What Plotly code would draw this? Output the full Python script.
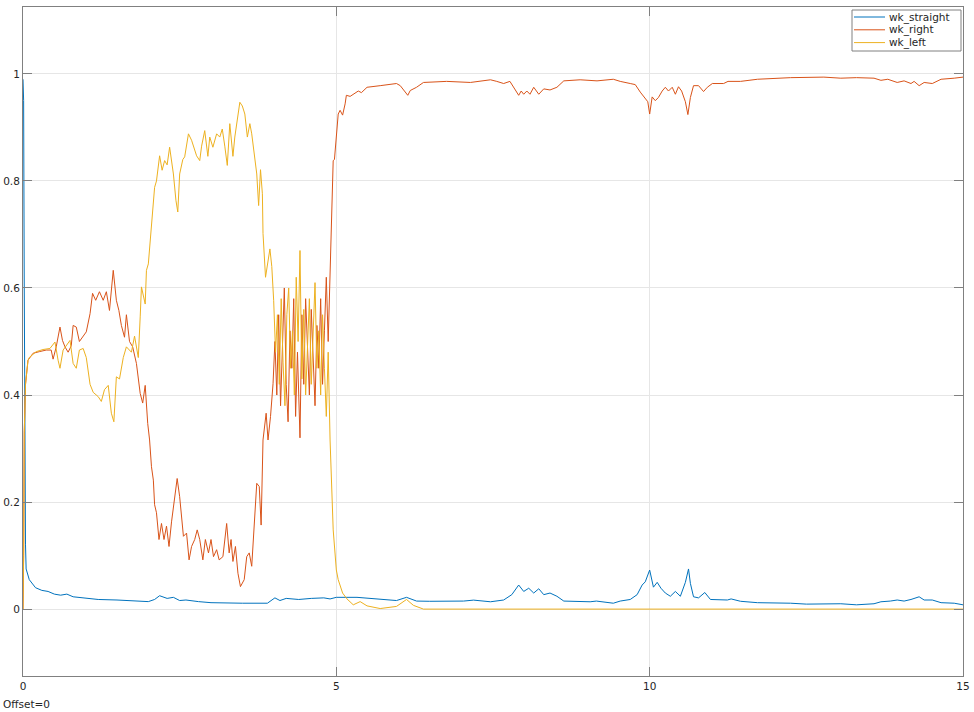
import plotly.graph_objects as go

# ---------------- data ----------------
t_straight = [0.0, 0.01, 0.02, 0.03, 0.04, 0.05, 0.1, 0.2, 0.3, 0.4, 0.5, 0.6, 0.7, 0.8, 1.0,
              1.2, 1.5, 1.8, 2.0, 2.1, 2.18, 2.3, 2.4, 2.5, 2.6, 2.8, 3.0, 3.5, 3.9, 4.02, 4.1,
              4.2, 4.4, 4.6, 4.8, 4.9, 5.0, 5.33, 5.64, 5.96, 6.12, 6.28, 6.49, 7.03, 7.19,
              7.46, 7.67, 7.8, 7.91, 7.99, 8.07, 8.15, 8.23, 8.31, 8.41, 8.52, 8.63, 9.05,
              9.15, 9.42, 9.53, 9.69, 9.8, 9.88, 9.93, 10.0, 10.06, 10.12, 10.18, 10.25,
              10.33, 10.41, 10.49, 10.57, 10.62, 10.65, 10.7, 10.78, 10.88, 10.97, 11.24,
              11.3, 11.45, 11.72, 12.25, 12.5, 13.05, 13.3, 13.58, 13.69, 13.84, 13.95,
              14.06, 14.17, 14.3, 14.38, 14.51, 14.65, 14.86, 15.0]
wk_straight = [0.99, 0.95, 0.6, 0.3, 0.12, 0.075, 0.055, 0.04, 0.035, 0.033, 0.028, 0.026,
               0.028, 0.023, 0.02, 0.018, 0.017, 0.015, 0.014, 0.018, 0.025, 0.02, 0.022,
               0.016, 0.017, 0.014, 0.012, 0.011, 0.011, 0.021, 0.016, 0.02, 0.018, 0.02,
               0.021, 0.019, 0.022, 0.022, 0.019, 0.016, 0.022, 0.015, 0.0146, 0.015,
               0.0168, 0.0137, 0.017, 0.027, 0.045, 0.033, 0.039, 0.03, 0.038, 0.027,
               0.03, 0.024, 0.015, 0.0137, 0.015, 0.011, 0.015, 0.018, 0.027, 0.045,
               0.051, 0.073, 0.041, 0.05, 0.039, 0.03, 0.024, 0.033, 0.024, 0.05, 0.075,
               0.048, 0.023, 0.021, 0.031, 0.018, 0.017, 0.019, 0.0146, 0.012, 0.011,
               0.0093, 0.01, 0.008, 0.01, 0.0137, 0.015, 0.017, 0.015, 0.018, 0.023,
               0.017, 0.017, 0.012, 0.011, 0.008]

t_right = [0.0, 0.01, 0.02, 0.04, 0.08, 0.16, 0.26, 0.37, 0.45, 0.48, 0.53, 0.59, 0.63,
           0.67, 0.72, 0.77, 0.8, 0.85, 0.9, 0.96, 1.01, 1.07, 1.11, 1.16, 1.22, 1.28,
           1.33, 1.38, 1.44, 1.49, 1.53, 1.57, 1.62, 1.65, 1.7, 1.75, 1.81, 1.87, 1.91,
           1.95, 1.99, 2.02, 2.05, 2.08, 2.1, 2.13, 2.17, 2.21, 2.25, 2.29, 2.33, 2.37,
           2.41, 2.46, 2.5, 2.53, 2.56, 2.61, 2.65, 2.69, 2.74, 2.78, 2.82, 2.87, 2.91,
           2.96, 3.0, 3.04, 3.09, 3.13, 3.19, 3.25, 3.29, 3.32, 3.35, 3.39, 3.43, 3.47,
           3.53, 3.57, 3.61, 3.65, 3.69, 3.73, 3.77, 3.8, 3.83, 3.88, 3.91, 3.95, 3.99,
           4.02, 4.05, 4.08, 4.11, 4.14, 4.17, 4.2, 4.23, 4.26, 4.29, 4.32, 4.35, 4.38,
           4.42, 4.45, 4.48, 4.51, 4.54, 4.57, 4.6, 4.63, 4.66, 4.69, 4.72, 4.75, 4.78,
           4.81, 4.84, 4.87, 4.9, 4.95, 4.97, 5.0, 5.03, 5.06, 5.1, 5.14, 5.16, 5.22,
           5.3, 5.35, 5.4, 5.49, 5.7, 5.96, 6.02, 6.1, 6.14, 6.18, 6.28, 6.39, 6.76,
           7.14, 7.46, 7.56, 7.67, 7.77, 7.85, 7.91, 7.95, 7.99, 8.04, 8.09, 8.15, 8.23,
           8.31, 8.41, 8.52, 8.63, 8.89, 9.16, 9.42, 9.53, 9.69, 9.77, 9.85, 9.93, 9.97,
           10.0, 10.04, 10.09, 10.14, 10.2, 10.25, 10.3, 10.36, 10.41, 10.46, 10.51,
           10.57, 10.61, 10.65, 10.7, 10.78, 10.86, 10.92, 11.0, 11.18, 11.25, 11.45,
           11.72, 12.25, 12.78, 13.05, 13.3, 13.58, 13.69, 13.8, 13.95, 14.06, 14.17,
           14.22, 14.3, 14.38, 14.51, 14.65, 14.86, 15.0]
wk_right = [0.0, 0.1, 0.33, 0.42, 0.465, 0.478, 0.481, 0.484, 0.484, 0.467, 0.49, 0.527,
            0.502, 0.49, 0.48, 0.492, 0.53, 0.527, 0.5, 0.51, 0.518, 0.552, 0.59, 0.577,
            0.593, 0.577, 0.593, 0.558, 0.633, 0.577, 0.558, 0.53, 0.508, 0.55, 0.5, 0.49,
            0.459, 0.403, 0.385, 0.418, 0.347, 0.316, 0.266, 0.241, 0.195, 0.18, 0.13,
            0.16, 0.13, 0.155, 0.117, 0.163, 0.204, 0.244, 0.21, 0.173, 0.136, 0.142,
            0.092, 0.117, 0.13, 0.148, 0.13, 0.092, 0.13, 0.105, 0.13, 0.098, 0.111,
            0.092, 0.098, 0.16, 0.105, 0.13, 0.089, 0.117, 0.067, 0.042, 0.055, 0.098,
            0.105, 0.08, 0.154, 0.235, 0.229, 0.157, 0.316, 0.366, 0.316, 0.36, 0.421,
            0.5, 0.4, 0.55, 0.38, 0.5, 0.6, 0.42, 0.35, 0.52, 0.45, 0.58, 0.36, 0.48,
            0.32, 0.55, 0.42, 0.58, 0.5, 0.4, 0.56, 0.48, 0.38, 0.53, 0.45, 0.58, 0.42,
            0.52, 0.62, 0.5, 0.645, 0.838, 0.84, 0.882, 0.925, 0.932, 0.923, 0.944, 0.96,
            0.958, 0.965, 0.968, 0.965, 0.975, 0.978, 0.982, 0.978, 0.966, 0.96, 0.969,
            0.975, 0.984, 0.986, 0.984, 0.989, 0.986, 0.982, 0.986, 0.972, 0.96, 0.968,
            0.962, 0.968, 0.962, 0.975, 0.962, 0.972, 0.97, 0.975, 0.987, 0.989, 0.987,
            0.99, 0.986, 0.982, 0.98, 0.966, 0.954, 0.948, 0.925, 0.957, 0.95, 0.956,
            0.968, 0.975, 0.968, 0.975, 0.962, 0.976, 0.968, 0.948, 0.924, 0.956, 0.978,
            0.978, 0.967, 0.975, 0.982, 0.982, 0.986, 0.986, 0.99, 0.993, 0.994, 0.992,
            0.993, 0.992, 0.988, 0.99, 0.984, 0.987, 0.982, 0.986, 0.978, 0.984, 0.982,
            0.99, 0.992, 0.994]

t_left = [0.0, 0.01, 0.02, 0.04, 0.08, 0.1, 0.21, 0.32, 0.43, 0.51, 0.56, 0.59, 0.64,
          0.75, 0.8, 0.85, 0.9, 0.96, 1.01, 1.07, 1.12, 1.2, 1.25, 1.3, 1.36, 1.41, 1.45,
          1.49, 1.54, 1.6, 1.65, 1.73, 1.78, 1.84, 1.87, 1.89, 1.95, 1.97, 2.0, 2.05,
          2.07, 2.1, 2.13, 2.18, 2.22, 2.26, 2.3, 2.34, 2.4, 2.44, 2.47, 2.5, 2.55, 2.58,
          2.64, 2.69, 2.77, 2.82, 2.85, 2.9, 2.95, 2.98, 3.03, 3.09, 3.14, 3.18, 3.22,
          3.26, 3.3, 3.35, 3.38, 3.42, 3.46, 3.5, 3.54, 3.58, 3.62, 3.65, 3.69, 3.73,
          3.76, 3.79, 3.82, 3.83, 3.87, 3.9, 3.94, 3.97, 4.0, 4.03, 4.06, 4.09, 4.12,
          4.15, 4.18, 4.21, 4.24, 4.27, 4.3, 4.33, 4.36, 4.39, 4.42, 4.45, 4.48, 4.51,
          4.54, 4.57, 4.6, 4.63, 4.66, 4.69, 4.72, 4.75, 4.78, 4.81, 4.84, 4.87, 4.9,
          4.95, 5.0, 5.03, 5.06, 5.1, 5.17, 5.27, 5.38, 5.49, 5.7, 5.96, 6.12, 6.23,
          6.39, 15.0]
wk_left = [0.0, 0.1, 0.33, 0.42, 0.465, 0.47, 0.481, 0.485, 0.487, 0.499, 0.465, 0.45,
           0.484, 0.502, 0.459, 0.45, 0.484, 0.487, 0.47, 0.42, 0.405, 0.397, 0.388,
           0.41, 0.418, 0.366, 0.35, 0.434, 0.43, 0.47, 0.49, 0.48, 0.51, 0.47, 0.546,
           0.602, 0.57, 0.633, 0.645, 0.72, 0.745, 0.788, 0.8, 0.847, 0.82, 0.838, 0.83,
           0.863, 0.813, 0.764, 0.742, 0.813, 0.84, 0.845, 0.888, 0.876, 0.847, 0.838,
           0.865, 0.894, 0.846, 0.882, 0.863, 0.888, 0.882, 0.897, 0.865, 0.829, 0.907,
           0.846, 0.882, 0.919, 0.947, 0.94, 0.925, 0.882, 0.907, 0.888, 0.854, 0.813,
           0.754, 0.821, 0.776, 0.702, 0.62, 0.645, 0.673, 0.64, 0.577, 0.48, 0.55, 0.42,
           0.58, 0.46, 0.38, 0.55, 0.6, 0.45, 0.52, 0.4, 0.62, 0.5, 0.67, 0.43, 0.56,
           0.4, 0.48, 0.58, 0.42, 0.5, 0.61, 0.45, 0.52, 0.4, 0.55, 0.45, 0.36, 0.48,
           0.316, 0.148, 0.073, 0.055, 0.045, 0.03, 0.019, 0.008, 0.014, 0.006, 0.001,
           0.005, 0.018, 0.007, 0.0, 0.0]

x_ticks = [0, 5, 10, 15]
y_ticks = [0, 0.2, 0.4, 0.6, 0.8, 1]
series_names = ["wk_straight", "wk_right", "wk_left"]
series_colors = ["#0072BD", "#D95319", "#EDB120"]

# ---------------- figure ----------------
FONT = dict(family="DejaVu Sans", size=10.5, color="#262626")
fig = go.Figure()
for tt, yy, nm, col in zip([t_straight, t_right, t_left],
                           [wk_straight, wk_right, wk_left],
                           series_names, series_colors):
    fig.add_trace(go.Scatter(x=tt, y=yy, mode="lines", name=nm,
                             line=dict(color=col, width=1), showlegend=False))

axis_common = dict(showgrid=True, gridcolor="#E6E6E6", gridwidth=1, zeroline=False,
                   showline=True, linecolor="#808080", linewidth=1, mirror="ticks",
                   ticks="inside", ticklen=9, tickcolor="#808080", automargin=False,
                   tickfont=FONT)

# MATLAB-style compact legend box (top-right), drawn in paper coordinates
L, R, T, B = 23, 963, 7, 676          # plot-area pixel edges
W, H = R - L, B - T
def px(x): return (x - L) / W
def py(y): return (B - y) / H

shapes = [dict(type="rect", xref="paper", yref="paper",
               x0=px(852), x1=px(961), y0=py(51), y1=py(10),
               line=dict(color="#808080", width=1), fillcolor="white", layer="above")]
annotations = []
for i, (nm, col) in enumerate(zip(series_names, series_colors)):
    yc = py(17 + 12.8 * i)
    shapes.append(dict(type="line", xref="paper", yref="paper",
                       x0=px(854), x1=px(885), y0=yc, y1=yc,
                       line=dict(color=col, width=1), layer="above"))
    annotations.append(dict(text=nm, xref="paper", yref="paper", x=px(887), y=yc,
                            xanchor="left", yanchor="middle", showarrow=False,
                            font=FONT))

annotations.append(dict(text="Offset=0", xref="paper", yref="paper", x=px(1), y=py(704),
                        xanchor="left", yanchor="middle", showarrow=False, font=FONT))

fig.update_layout(
    width=974, height=712,
    margin=dict(l=L, r=974 - R, t=T, b=712 - B, autoexpand=False),
    paper_bgcolor="white", plot_bgcolor="white",
    font=FONT,
    xaxis=dict(range=[0, 15], tickvals=x_ticks, **axis_common),
    yaxis=dict(range=[-0.125, 1.125], tickvals=y_ticks, **axis_common),
    showlegend=False,
    shapes=shapes,
    annotations=annotations,
)

fig.write_html("out.html",
               config={"displayModeBar": False},
               post_script="document.body.style.margin='0px';"
                           "document.body.style.overflow='hidden';")
